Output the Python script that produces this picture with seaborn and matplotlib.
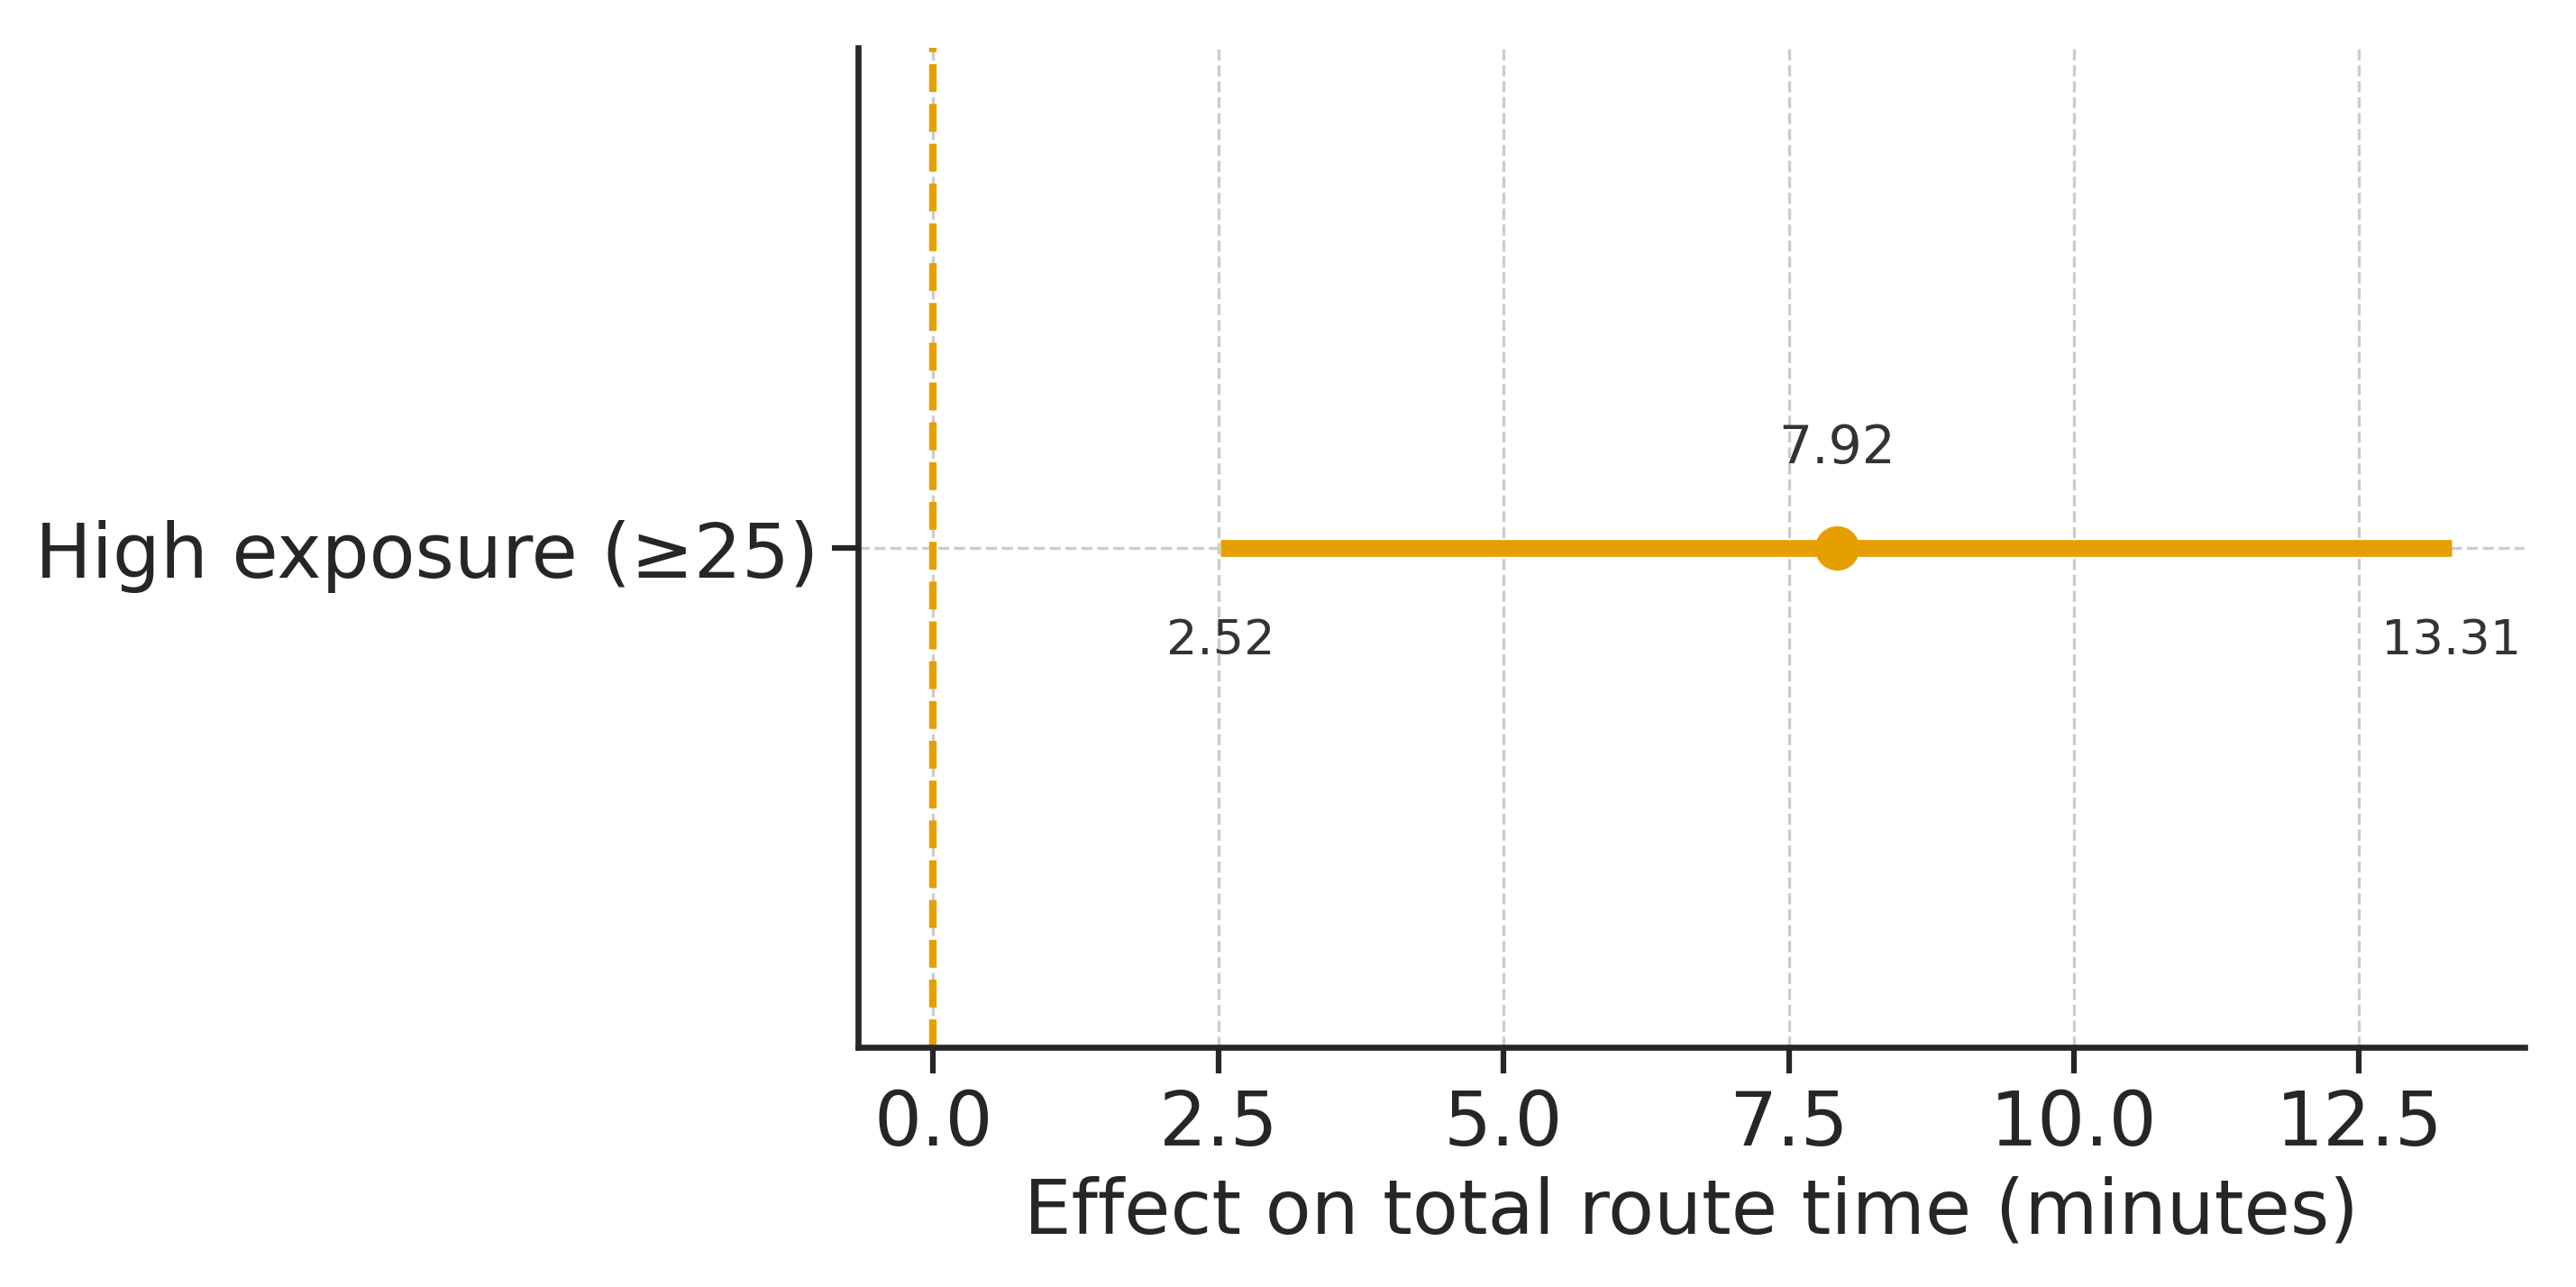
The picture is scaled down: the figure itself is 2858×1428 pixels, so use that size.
import matplotlib
matplotlib.use("Agg")
import matplotlib.pyplot as plt
import pandas as pd
import seaborn as sns

groups = ["High exposure (≥25)"]
estimates = [7.92]
ci_low = [2.52]
ci_high = [13.31]

COLOR = "#E69F00"

df = pd.DataFrame({"group": groups, "est": estimates, "lo": ci_low, "hi": ci_high})

sns.set_style("ticks")
plt.rcParams["font.family"] = ["DejaVu Sans"]

fig = plt.figure(figsize=(9.527, 4.763), dpi=300)
ax = fig.add_axes([0.333, 0.186, 0.647, 0.776])

ax.hlines(y=df["group"], xmin=df["lo"], xmax=df["hi"], color=COLOR, linewidth=4.5, zorder=3)
sns.scatterplot(data=df, x="est", y="group", color=COLOR, s=120, edgecolor=COLOR, zorder=4, ax=ax)
ax.axvline(0, color=COLOR, linestyle="--", linewidth=2, zorder=2)

for _, r in df.iterrows():
    ax.text(r["est"], -0.1, f"{r['est']:.2f}", ha="center", va="center", fontsize=14, color="#333333")
    ax.text(r["lo"], 0.092, f"{r['lo']:.2f}", ha="center", va="center", fontsize=13, color="#333333")
    ax.text(r["hi"], 0.092, f"{r['hi']:.2f}", ha="center", va="center", fontsize=13, color="#333333")

ax.set_xlim(-0.66, 13.95)
ax.set_ylim(0.5, -0.5)
ax.set_xticks([0, 2.5, 5, 7.5, 10, 12.5])
ax.grid(True, linestyle="--", color="#cccccc", linewidth=0.8)
ax.set_axisbelow(True)
ax.tick_params(labelsize=20, width=1.5, length=7)
for s in ax.spines.values():
    s.set_linewidth(1.6)
ax.set_xlabel("Effect on total route time (minutes)", fontsize=20)
ax.set_ylabel("")
sns.despine(ax=ax)

fig.savefig("out.png", dpi=300)
